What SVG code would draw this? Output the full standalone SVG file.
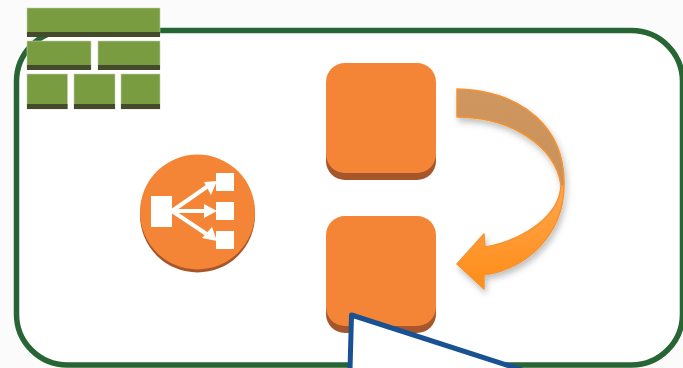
<svg xmlns="http://www.w3.org/2000/svg" width="683" height="368" viewBox="0 0 683 368">
<defs>
<linearGradient id="arrowFill" gradientUnits="userSpaceOnUse" x1="0" y1="89" x2="0" y2="289">
<stop offset="0" stop-color="#cf965f"/>
<stop offset="0.48" stop-color="#c9925a"/>
<stop offset="0.485" stop-color="#ffa64d"/>
<stop offset="1" stop-color="#ff8c17"/>
</linearGradient>
<filter id="soft" x="-20%" y="-20%" width="150%" height="150%">
<feDropShadow dx="2" dy="4" stdDeviation="3" flood-color="#000" flood-opacity="0.25"/>
</filter>
</defs>
<style>
.brick{fill:#7a9c40;stroke:#c5d0b0;stroke-width:.6}
.brickb{fill:#444a2c}
.box{fill:#f58536}
.boxb{fill:#a6562a}
.w{fill:#fff}
.wl{stroke:#fff;stroke-width:4;fill:none}
</style>
<rect width="683" height="368" fill="#fbfbfb"/>
<rect id="frame" x="16.500" y="30.500" width="666" height="334.500" rx="51" ry="51" fill="#fff" stroke="#286534" stroke-width="5.500"/>
<g id="firewall">
<rect class="brick" x="27" y="8" width="133" height="28"/><rect class="brickb" x="27" y="32" width="133" height="5"/>
<rect class="brick" x="27" y="41" width="64" height="28"/><rect class="brickb" x="27" y="65" width="64" height="5"/>
<rect class="brick" x="98" y="41" width="62" height="28"/><rect class="brickb" x="98" y="65" width="62" height="5"/>
<rect class="brick" x="27" y="74" width="40.500" height="35"/><rect class="brickb" x="27" y="104" width="40.500" height="5"/>
<rect class="brick" x="74" y="74" width="41" height="35"/><rect class="brickb" x="74" y="104" width="41" height="5"/>
<rect class="brick" x="121" y="74" width="39" height="35"/><rect class="brickb" x="121" y="104" width="39" height="5"/>
</g>
<g id="load-balancer">
<circle class="boxb" cx="197.500" cy="215" r="57.500"/>
<circle class="box" cx="197.500" cy="212" r="57.500"/>
<rect class="w" x="151" y="196" width="21" height="31"/>
<rect class="w" x="216" y="173" width="18" height="18"/>
<rect class="w" x="216" y="202" width="18" height="18"/>
<rect class="w" x="216" y="231" width="18" height="18"/>
<path class="wl" d="M172 211L208 186M172 211H208M172 211L208 235"/>
<path class="w" d="M217 181L204 182L211 195ZM217 211L204 204V218ZM217 241L202 238L212 227Z"/>
</g>
<g id="instance-top">
<rect class="boxb" x="326" y="69" width="110" height="111" rx="19"/>
<rect class="box" x="326" y="63" width="110" height="110" rx="19"/>
</g>
<g id="instance-bottom">
<rect class="boxb" x="326" y="222" width="110" height="111" rx="19"/>
<rect class="box" x="326" y="216" width="110" height="110" rx="19"/>
</g>
<g id="connectors">
<path filter="url(#soft)" d="M457 89C525 91 566 130 564 187C563 232 530 268 484 275L484 289L457 264L484 234L485 247C525 240 560 215 561 185C555 145 510 117 457 117Z" fill="url(#arrowFill)" stroke="#f59331" stroke-width="1.500" stroke-linejoin="round"/>
</g>
<g id="callout">
<path d="M351 314L350 370H522Z" fill="#fff"/>
<path d="M350 370L351.500 315L522 370" fill="none" stroke="#1a5192" stroke-width="5" stroke-linejoin="round"/>
</g>
</svg>
